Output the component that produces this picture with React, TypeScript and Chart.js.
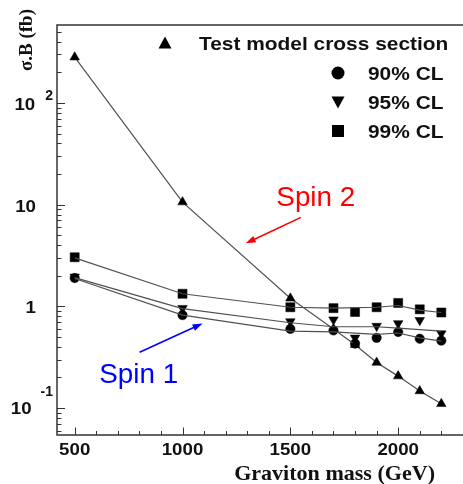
import React, { useEffect, useRef } from 'react';
import { Chart, registerables } from 'chart.js';

Chart.register(...registerables);

// ---- data ----
const masses = [500, 1000, 1500, 1700, 1800, 1900, 2000, 2100, 2200];
const testModel = [282, 10.6, 1.2, 0.6, 0.42, 0.28, 0.206, 0.147, 0.11];
const cl90 = [1.9, 0.82, 0.6, 0.58, 0.43, 0.49, 0.56, 0.48, 0.46];
const cl95 = [1.95, 0.96, 0.71, 0.74, 0.49, 0.64, 0.68, 0.73, 0.54];
const cl99 = [3.04, 1.33, 0.98, 0.96, 0.88, 0.98, 1.08, 0.935, 0.87];

const fitMasses = [500, 1000, 1500, 1700, 1900, 2000, 2100, 2200];
const fit90 = [1.88, 0.82, 0.57, 0.56, 0.53, 0.547, 0.49, 0.455];
const fit95 = [1.92, 0.95, 0.69, 0.63, 0.63, 0.61, 0.59, 0.57];
const fit99 = [3.0, 1.33, 0.98, 0.96, 0.98, 1.02, 0.92, 0.87];

const xTickLabels = [500, 1000, 1500, 2000];
const yTickValues = [0.1, 1, 10, 100];
const yTickBases = ['10', '1', '10', '10'];
const yTickExps = ['-1', '', '', '2'];

const legendLabels = ['Test model cross section', '90% CL', '95% CL', '99% CL'];
const xTitle = 'Graviton mass (GeV)';
const yTitle = 'σ.B (fb)';

// annotations (data coordinates)
const spin2Label = 'Spin 2';
const spin2TextAt = [1435, 9.8];
const spin2Arrow = [1549, 7.5, 1293, 4.17];
const spin1Label = 'Spin 1';
const spin1TextAt = [614, 0.175];
const spin1Arrow = [801, 0.353, 1093, 0.68];

const SANS = '"Liberation Sans", Arial, Helvetica, sans-serif';
const SERIF = '"Liberation Serif", "Times New Roman", serif';

function pts(xs: number[], ys: number[]) {
  return xs.map((x, i) => ({ x, y: ys[i] }));
}

function txt(ctx: CanvasRenderingContext2D, s: string, x: number, y: number, font: string,
  align: CanvasTextAlign, color: string, sx = 1) {
  ctx.save();
  ctx.font = font;
  ctx.fillStyle = color;
  ctx.textBaseline = 'alphabetic';
  ctx.textAlign = align;
  ctx.translate(x, y);
  ctx.scale(sx, 1);
  ctx.fillText(s, 0, 0);
  ctx.restore();
}

function marker(ctx: CanvasRenderingContext2D, kind: string, x: number, y: number, r: number) {
  ctx.save();
  ctx.fillStyle = '#000';
  ctx.beginPath();
  if (kind === 'circle') {
    ctx.arc(x, y, r, 0, Math.PI * 2);
  } else if (kind === 'square') {
    ctx.rect(x - r, y - r, 2 * r, 2 * r);
  } else if (kind === 'up') {
    ctx.moveTo(x, y - r);
    ctx.lineTo(x + r, y + r * 0.85);
    ctx.lineTo(x - r, y + r * 0.85);
  } else {
    ctx.moveTo(x, y + r);
    ctx.lineTo(x + r, y - r * 0.85);
    ctx.lineTo(x - r, y - r * 0.85);
  }
  ctx.closePath();
  ctx.fill();
  ctx.restore();
}

function arrow(ctx: CanvasRenderingContext2D, x1: number, y1: number, x2: number, y2: number, color: string) {
  const ang = Math.atan2(y2 - y1, x2 - x1);
  const hl = 10, hw = 3.5;
  ctx.save();
  ctx.strokeStyle = color;
  ctx.fillStyle = color;
  ctx.lineWidth = 1.6;
  ctx.beginPath();
  ctx.moveTo(x1, y1);
  ctx.lineTo(x2 - Math.cos(ang) * hl * 0.8, y2 - Math.sin(ang) * hl * 0.8);
  ctx.stroke();
  ctx.beginPath();
  ctx.moveTo(x2, y2);
  ctx.lineTo(x2 - Math.cos(ang) * hl - Math.sin(ang) * hw, y2 - Math.sin(ang) * hl + Math.cos(ang) * hw);
  ctx.lineTo(x2 - Math.cos(ang) * hl + Math.sin(ang) * hw, y2 - Math.sin(ang) * hl - Math.cos(ang) * hw);
  ctx.closePath();
  ctx.fill();
  ctx.restore();
}

const rootStyle = {
  id: 'rootStyle',
  beforeDatasetsDraw(chart: any) {
    const { ctx, chartArea: a, scales } = chart;
    const x = scales.x, y = scales.y;
    ctx.save();
    ctx.strokeStyle = '#333';
    ctx.lineWidth = 1.5;
    ctx.beginPath();
    ctx.moveTo(a.right + 5, a.top);
    ctx.lineTo(a.left, a.top);
    ctx.lineTo(a.left, a.bottom);
    ctx.lineTo(a.right + 5, a.bottom);
    ctx.stroke();
    ctx.lineWidth = 1;
    ctx.beginPath();
    for (let e = -2; e <= 2; e++) {
      for (let m = 1; m <= 9; m++) {
        const v = m * Math.pow(10, e);
        if (v < y.min || v > y.max) continue;
        const py = Math.round(y.getPixelForValue(v)) + 0.5;
        const len = m === 1 ? 8 : 4.5;
        ctx.moveTo(a.left, py);
        ctx.lineTo(a.left + len, py);
      }
    }
    for (let v = 100; v <= 2300; v += 100) {
      if (v < x.min || v > x.max) continue;
      const px = Math.round(x.getPixelForValue(v)) + 0.5;
      const len = v % 500 === 0 ? 7.5 : 4;
      ctx.moveTo(px, a.bottom);
      ctx.lineTo(px, a.bottom - len);
    }
    ctx.stroke();
    ctx.restore();
  },
  afterDraw(chart: any) {
    const { ctx, chartArea: a, scales } = chart;
    const x = scales.x, y = scales.y;
    const tickFont = `bold 17px ${SANS}`;
    const expFont = `bold 14px ${SANS}`;
    const sx = 1.1;
    xTickLabels.forEach((v) => {
      txt(ctx, String(v), x.getPixelForValue(v), a.bottom + 20, tickFont, 'center', '#111', sx);
    });
    yTickValues.forEach((v, i) => {
      const py = y.getPixelForValue(v);
      const base = yTickBases[i];
      const exp = yTickExps[i];
      if (!exp) {
        txt(ctx, base, a.left - 21, py + 7, tickFont, 'right', '#111', sx);
      } else {
        ctx.save();
        ctx.font = expFont;
        const ew = ctx.measureText(exp).width;
        ctx.restore();
        const right = a.left - 4;
        const neg = exp.startsWith('-');
        txt(ctx, exp, right, py + (neg ? -12 : -3), expFont, 'right', '#111', 1);
        txt(ctx, base, right - ew - (neg ? 9 : 10), py + (neg ? 6 : 7), tickFont, 'right', '#111', sx);
      }
    });
    // axis titles
    txt(ctx, xTitle, 435, a.bottom + 45, `bold 21px ${SERIF}`, 'right', '#111', 1.05);
    ctx.save();
    ctx.translate(32, 9);
    ctx.rotate(-Math.PI / 2);
    ctx.font = `bold 19px ${SERIF}`;
    ctx.fillStyle = '#111';
    ctx.textAlign = 'right';
    ctx.textBaseline = 'alphabetic';
    ctx.fillText(yTitle, 0, 0);
    ctx.restore();

    // legend
    const lf = `bold 19px ${SANS}`;
    marker(ctx, 'up', 165, 43, 6.5);
    txt(ctx, legendLabels[0], 199, 50, lf, 'left', '#111', 1.1);
    const kinds = ['circle', 'down', 'square'];
    const ly = [73, 102, 131];
    kinds.forEach((k, i) => {
      marker(ctx, k, 338, ly[i], k === 'square' ? 6 : 6.5);
      txt(ctx, legendLabels[i + 1], 368, ly[i] + 7, lf, 'left', '#111', 1.1);
    });

    // spin annotations
    const sf = `27px ${SANS}`;
    txt(ctx, spin2Label, x.getPixelForValue(spin2TextAt[0]), y.getPixelForValue(spin2TextAt[1]), sf, 'left', '#ff0000', 1.03);
    arrow(ctx, x.getPixelForValue(spin2Arrow[0]), y.getPixelForValue(spin2Arrow[1]),
      x.getPixelForValue(spin2Arrow[2]), y.getPixelForValue(spin2Arrow[3]), '#ff0000');
    txt(ctx, spin1Label, x.getPixelForValue(spin1TextAt[0]), y.getPixelForValue(spin1TextAt[1]), sf, 'left', '#0000ff', 1.03);
    arrow(ctx, x.getPixelForValue(spin1Arrow[0]), y.getPixelForValue(spin1Arrow[1]),
      x.getPixelForValue(spin1Arrow[2]), y.getPixelForValue(spin1Arrow[3]), '#0000ff');
  },
};

export default function App() {
  const ref = useRef<HTMLCanvasElement | null>(null);
  useEffect(() => {
    if (!ref.current) return;
    const lineCol = '#505050';
    const curve = (d: number[]) => ({
      data: pts(fitMasses, d),
      borderColor: lineCol,
      borderWidth: 1.2,
      pointRadius: 0,
      showLine: true,
      tension: 0,
    });
    const marks = (d: number[], style: string, r: number, rot = 0) => ({
      data: pts(masses, d),
      showLine: false,
      pointStyle: style,
      pointRadius: r,
      pointRotation: rot,
      pointBackgroundColor: '#000',
      pointBorderColor: '#000',
      pointBorderWidth: 0.5,
    });
    const chart = new Chart(ref.current, {
      type: 'line',
      data: {
        datasets: [
          curve(fit90) as any,
          curve(fit95) as any,
          curve(fit99) as any,
          {
            data: pts(masses, testModel),
            borderColor: lineCol,
            borderWidth: 1.2,
            showLine: true,
            tension: 0,
            pointStyle: 'triangle',
            pointRadius: 5.5,
            pointBackgroundColor: '#000',
            pointBorderColor: '#000',
            pointBorderWidth: 0.5,
          } as any,
          marks(cl99, 'rect', 6.4) as any,
          marks(cl95, 'triangle', 5.5, 180) as any,
          marks(cl90, 'circle', 4.7) as any,
        ],
      },
      options: {
        animation: false,
        responsive: false,
        maintainAspectRatio: false,
        events: [],
        layout: { padding: { left: 57, top: 25, right: 0, bottom: 49 } },
        plugins: { legend: { display: false }, tooltip: { enabled: false } },
        scales: {
          x: { type: 'linear', min: 418, max: 2301, display: false, bounds: 'data' },
          y: { type: 'logarithmic', min: 0.0543, max: 585, display: false, bounds: 'data' },
        },
      },
      plugins: [rootStyle],
    });
    return () => chart.destroy();
  }, []);
  return (
    <div style={{ position: 'fixed', left: 0, top: 0, width: 463, height: 484, overflow: 'hidden', background: '#fff' }}>
      <canvas ref={ref} width={470} height={484} style={{ width: 470, height: 484, display: 'block' }} />
    </div>
  );
}
